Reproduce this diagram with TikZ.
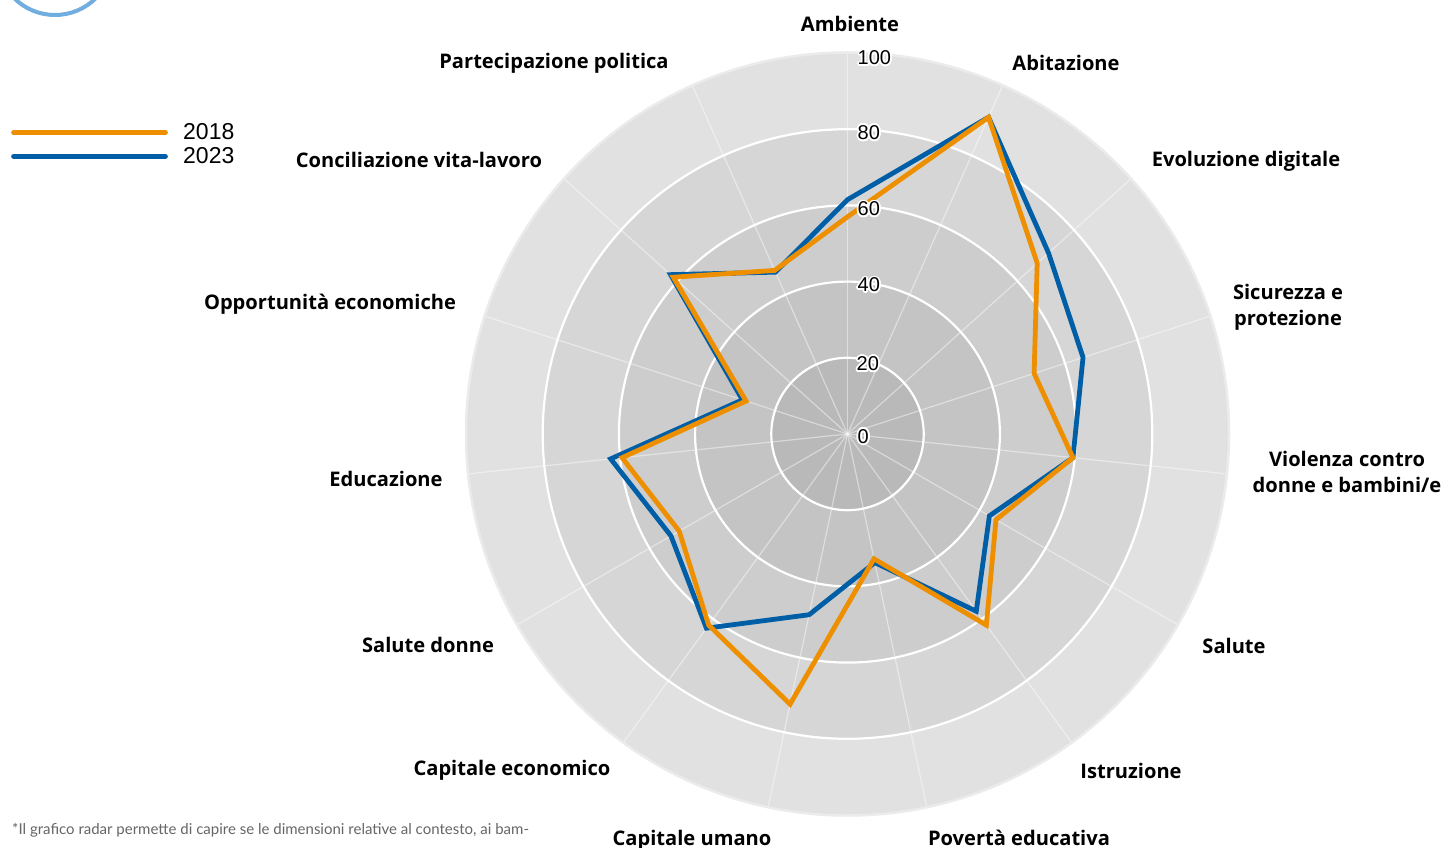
\documentclass[tikz,border=0pt]{standalone}
\usepackage{fontspec}
\setmainfont{Open Sans}
\newfontfamily\tickfont{Liberation Sans}
\newfontfamily\notefont{Lato}
\definecolor{sOrange}{HTML}{EE8F00}
\definecolor{sBlue}{HTML}{005EA6}
\definecolor{bandA}{HTML}{B9B9B9}
\definecolor{bandB}{HTML}{C4C4C4}
\definecolor{bandC}{HTML}{CDCDCD}
\definecolor{bandD}{HTML}{D6D6D6}
\definecolor{bandE}{HTML}{E1E1E1}
\definecolor{rimcol}{HTML}{EBEBEB}
\definecolor{logoblue}{HTML}{72ADE0}
\definecolor{notegray}{HTML}{666666}
\tikzset{
  lbl/.style={font=\bfseries\fontsize{20.1}{26}\selectfont, inner sep=0pt, anchor=base},
  tick/.style={font=\tickfont\fontsize{20}{22}\selectfont, inner sep=0pt, anchor=base west},
  legtxt/.style={font=\tickfont\fontsize{23}{26}\selectfont, inner sep=0pt, anchor=base west},
  spoke/.style={draw=white, opacity=0.45, line width=1.2pt},
  ringline/.style={draw=white, line width=2.2pt},
  series/.style={line width=4.8pt, line join=miter},
  legline/.style={line width=4.7pt, line cap=round}
}
\newcommand\halotick[4]{%
  \foreach \a in {0,30,...,330}{\node[tick,text=white] at ([shift={(\a:1.8pt)}] #2,#3) {#4};}
  \node[tick] (#1) at (#2,#3) {#4};}
\begin{document}
\begin{tikzpicture}[x=1pt,y=1pt]
\useasboundingbox (0,0) rectangle (1443,847);
\clip (0,0) rectangle (1443,847);
\fill[white] (0,0) rectangle (1443,847);
% logo arc
\coordinate (logoC) at (55,890);
\draw[logoblue, line width=4pt] (logoC) circle (58pt);
% background bands
\coordinate (C) at (847.5,413);
\fill[bandE] (C) circle (382pt);
\fill[bandD] (C) circle (304.8pt);
\fill[bandC] (C) circle (228.6pt);
\fill[bandB] (C) circle (152.4pt);
\fill[bandA] (C) circle (76.2pt);
\foreach \k in {0,...,14} \draw[spoke] (C) -- ([shift={({90-24*\k}:381pt)}]C);
\foreach \r in {76.2,152.4,228.6,304.8} \draw[ringline] (C) circle (\r pt);
\draw[rimcol, line width=2.5pt] (C) circle (381.5pt);
% data
\def\orangeVals{57,91,67,51.5,59.5,45,62,33.5,72.5,62,51,59.5,28,61.5,47}
\def\blueVals{61.5,91,71,65,59.5,43,57.5,34.5,48.5,63,53.5,62.5,29,62.5,46.5}
\foreach \v [count=\k from 0] in \orangeVals {\coordinate (o\k) at ([shift={({90-24*\k}:{\v*3.81pt})}]C);}
\foreach \v [count=\k from 0] in \blueVals {\coordinate (b\k) at ([shift={({90-24*\k}:{\v*3.81pt})}]C);}
\draw[series, sBlue] (b0) \foreach \k in {1,...,14}{ -- (b\k)} -- cycle;
\draw[series, sOrange] (o0) \foreach \k in {1,...,14}{ -- (o\k)} -- cycle;
% tick labels
\halotick{t100}{857.5}{782}{100}
\halotick{t80}{857.5}{707.5}{80}
\halotick{t60}{857.5}{631}{60}
\halotick{t40}{857.5}{555}{40}
\halotick{t20}{856.5}{476.3}{20}
\halotick{t0}{857.5}{403.7}{0}
% axis labels
\node[lbl] (lAmb) at (850,815.5) {Ambiente};
\node[lbl] (lAbi) at (1066,776.3) {Abitazione};
\node[lbl] (lEvo) at (1246,680) {Evoluzione digitale};
\node[lbl] (lSic) at (1288,547) {\begin{tabular}[t]{@{}c@{}}Sicurezza e\\protezione\end{tabular}};
\node[lbl] (lVio) at (1347,380.3) {\begin{tabular}[t]{@{}c@{}}Violenza contro\\donne e bambini/e\end{tabular}};
\node[lbl] (lSal) at (1234,193.5) {Salute};
\node[lbl] (lIst) at (1131,68.5) {Istruzione};
\node[lbl] (lPov) at (1019,2) {Povertà educativa};
\node[lbl] (lCum) at (692,2) {Capitale umano};
\node[lbl] (lCec) at (512,71.5) {Capitale economico};
\node[lbl] (lSdo) at (428,194.5) {Salute donne};
\node[lbl] (lEdu) at (386,360.5) {Educazione};
\node[lbl] (lOpp) at (330,537) {Opportunità economiche};
\node[lbl] (lCon) at (419,679.5) {Conciliazione vita-lavoro};
\node[lbl] (lPar) at (554,778) {Partecipazione politica};
% legend
\coordinate (lgOa) at (13.5,714.5);
\coordinate (lgOb) at (165.5,714.5);
\coordinate (lgBa) at (13.5,690.7);
\coordinate (lgBb) at (165.5,690.7);
\draw[legline, sOrange] (lgOa) -- (lgOb);
\draw[legline, sBlue] (lgBa) -- (lgBb);
\node[legtxt] (lg18) at (183,707) {2018};
\node[legtxt] (lg23) at (183,683) {2023};
% footnote
\node[font=\notefont\fontsize{15}{18}\selectfont, text=notegray, inner sep=0pt, anchor=base west] (note) at (12,13) {*Il grafico radar permette di capire se le dimensioni relative al contesto, ai bam-};
\end{tikzpicture}
\end{document}
